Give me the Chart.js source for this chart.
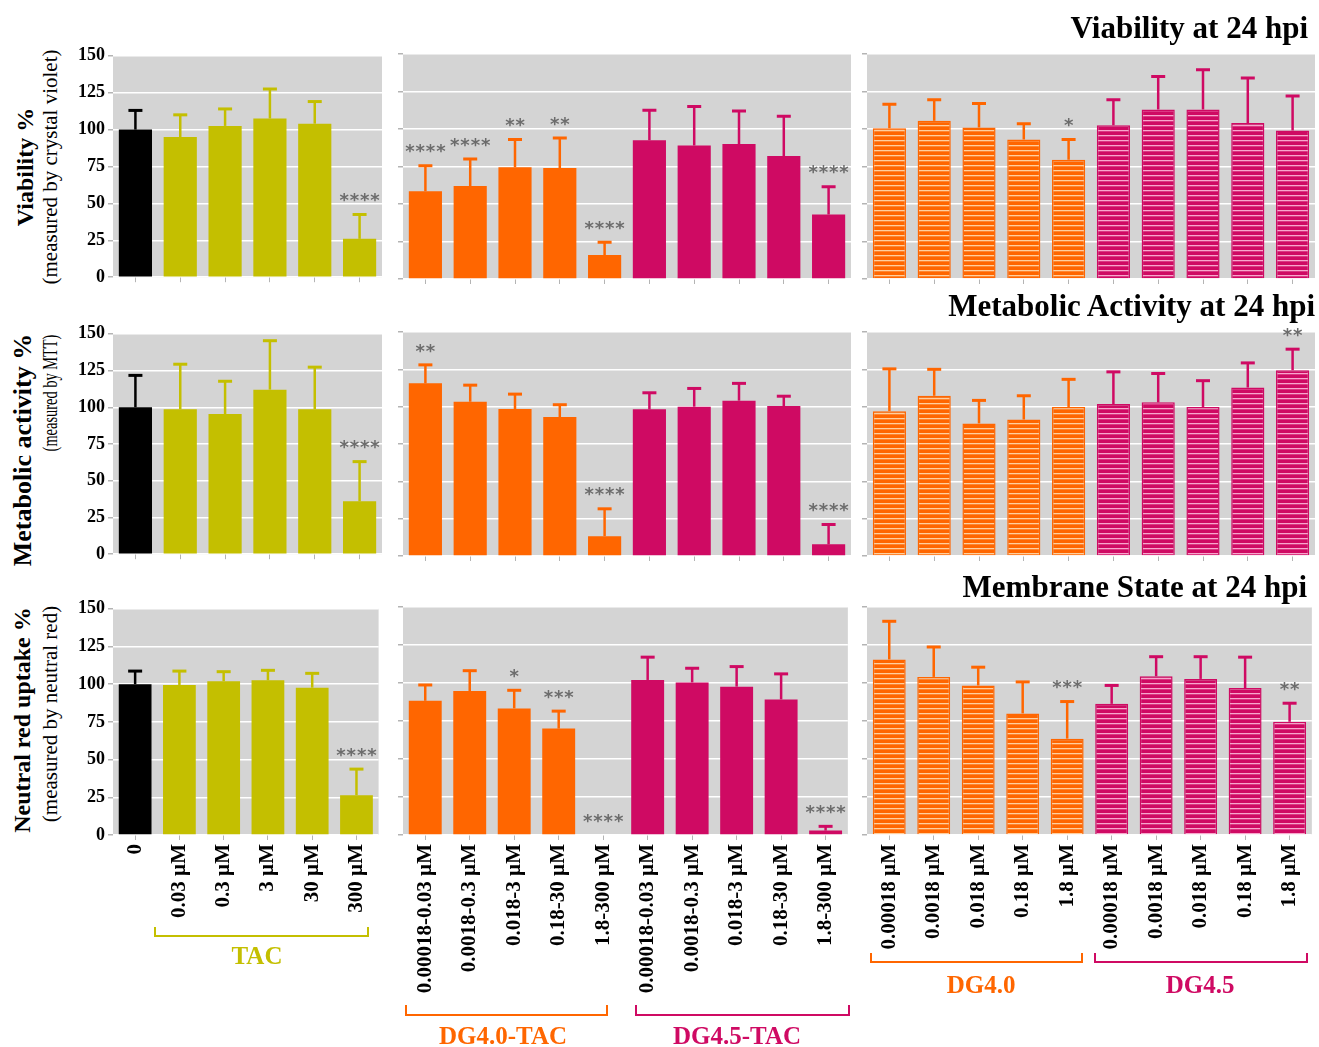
<!DOCTYPE html>
<html>
<head>
<meta charset="utf-8">
<script src="https://cdn.jsdelivr.net/npm/chart.js@4.4.0/dist/chart.umd.min.js"></script>
<style>
  body { margin: 0; background: #fff; }
  #page { position: relative; width: 1319px; height: 1047px; overflow: hidden; font-family: "Liberation Serif", serif; }
  canvas { position: absolute; }
  .rowTitle { position: absolute; font-weight: bold; font-size: 31px; line-height: 31px; white-space: nowrap; z-index: 2; }
  .ytitle { position: absolute; white-space: nowrap; transform: translate(-50%, -50%) rotate(-90deg); z-index: 2; }
  .bracket { position: absolute; border: 2px solid; border-top: none; box-sizing: border-box; z-index: 2; }
  .group { position: absolute; font-weight: bold; font-size: 25px; transform: translate(-50%, -50%); white-space: nowrap; z-index: 2; }
</style>
</head>
<body>
<div id="page">
  <div class="rowTitle" style="right:11px; top:12px">Viability at 24 hpi</div>
  <div class="rowTitle" style="right:4px; top:290px">Metabolic Activity at 24 hpi</div>
  <div class="rowTitle" style="right:12px; top:571px">Membrane State at 24 hpi</div>

  <div class="ytitle" style="left:25px; top:167px; font-weight:bold; font-size:24px">Viability %</div>
  <div class="ytitle" style="left:50px; top:167px; font-size:21px">(measured by crystal violet)</div>
  <div class="ytitle" style="left:23px; top:450px; font-weight:bold; font-size:26px">Metabolic activity %</div>
  <div class="ytitle" style="left:50px; top:393px; font-size:20px; transform: translate(-50%, -50%) rotate(-90deg) scaleX(0.72)">(measured by MTT)</div>
  <div class="ytitle" style="left:22px; top:720px; font-weight:bold; font-size:24px">Neutral red uptake %</div>
  <div class="ytitle" style="left:50px; top:714px; font-size:21px">(measured by neutral red)</div>

  <div class="bracket" style="left:154px; top:927px; width:215px; height:10px; border-color:#c4bf00"></div>
  <div class="group" style="left:257px; top:956px; color:#c4bf00">TAC</div>
  <div class="bracket" style="left:405px; top:1005px; width:203px; height:11px; border-color:#ff6600"></div>
  <div class="group" style="left:503px; top:1036px; color:#ff6600">DG4.0-TAC</div>
  <div class="bracket" style="left:635px; top:1005px; width:215px; height:11px; border-color:#cf0a63"></div>
  <div class="group" style="left:737px; top:1036px; color:#cf0a63">DG4.5-TAC</div>
  <div class="bracket" style="left:870px; top:953px; width:213px; height:10px; border-color:#ff6600"></div>
  <div class="group" style="left:981px; top:985px; color:#ff6600">DG4.0</div>
  <div class="bracket" style="left:1094px; top:953px; width:214px; height:10px; border-color:#cf0a63"></div>
  <div class="group" style="left:1200px; top:985px; color:#cf0a63">DG4.5</div>
</div>
<script>
// categories
const tacLabels = ['0', '0.03 µM', '0.3 µM', '3 µM', '30 µM', '300 µM'];
const dgTacLabels = ['0.00018-0.03 µM', '0.0018-0.3 µM', '0.018-3 µM', '0.18-30 µM', '1.8-300 µM',
                     '0.00018-0.03 µM', '0.0018-0.3 µM', '0.018-3 µM', '0.18-30 µM', '1.8-300 µM'];
const dgLabels = ['0.00018 µM', '0.0018 µM', '0.018 µM', '0.18 µM', '1.8 µM',
                  '0.00018 µM', '0.0018 µM', '0.018 µM', '0.18 µM', '1.8 µM'];
const yTicks = [0, 25, 50, 75, 100, 125, 150];

// viability (crystal violet)
const viabTac = [100, 95, 102.5, 107.5, 104, 26];
const viabTacSd = [13, 15, 11.5, 20, 15, 16.5];
const viabTacStars = ['', '', '', '', '', '****'];
const viabDgTac = [58.5, 62, 74.5, 74, 16, 92.5, 89, 90, 82, 43];
const viabDgTacSd = [17, 18, 18.5, 20, 8.5, 20, 26, 22, 26.5, 18.5];
const viabDgTacStars = ['****', '****', '**', '**', '****', '', '', '', '', '****'];
const viabDg = [100.5, 105.5, 101, 93, 79.5, 102.5, 113, 113, 104, 99];
const viabDgSd = [16, 14, 16, 10.5, 13.5, 17, 22, 26.5, 30, 23];
const viabDgStars = ['', '', '', '', '*', '', '', '', '', ''];

// metabolic activity (MTT)
const mttTac = [100, 98.7, 95.4, 112, 98.7, 36];
const mttTacSd = [21.7, 30.6, 22.3, 33.3, 28.6, 27];
const mttTacStars = ['', '', '', '', '', '****'];
const mttDgTac = [115.6, 103.3, 98.4, 93, 13.3, 98.2, 100, 104, 100.4, 7.8];
const mttDgTacSd = [12.4, 11.1, 10, 8.3, 18.3, 11.1, 12.2, 11.6, 6.6, 13.3];
const mttDgTacStars = ['**', '', '', '', '****', '', '', '', '', '****'];
const mttDg = [97, 107.3, 88.8, 91.4, 99.8, 101.8, 102.9, 99.8, 112.8, 124.4];
const mttDgSd = [28.3, 17.7, 15.4, 15.9, 18.5, 21.5, 19.3, 17.6, 16.5, 14.1];
const mttDgStars = ['', '', '', '', '', '', '', '', '', '**'];

// membrane state (neutral red)
const nrTac = [100, 99.5, 102, 102.6, 97.7, 26.4];
const nrTacSd = [8.7, 9.2, 6.3, 6.6, 9.5, 17.3];
const nrTacStars = ['', '', '', '', '', '****'];
const nrDgTac = [88.3, 94.7, 83.3, 70, 0, 102, 100.4, 97.6, 89.2, 2.9];
const nrDgTacSd = [10.4, 13.4, 11.9, 11.5, 0, 15, 9.3, 13.2, 16.8, 2.8];
const nrDgTacStars = ['', '', '*', '***', '****', '', '', '', '', '****'];
const nrDg = [115.5, 104, 98.4, 80, 63.4, 86.3, 104.4, 102.7, 96.7, 74.5];
const nrDgSd = [25.1, 19.7, 12, 20.7, 24.4, 12.1, 12.9, 14.6, 20.3, 12.2];
const nrDgStars = ['', '', '', '', '***', '', '', '', '', '**'];

const OLIVE = '#c4bf00', ORANGE = '#ff6600', MAGENTA = '#cf0a63';

function stripes(base, light) {
  const c = document.createElement('canvas');
  c.width = 4; c.height = 5;
  const g = c.getContext('2d');
  g.fillStyle = base; g.fillRect(0, 0, 4, 5);
  g.fillStyle = light; g.fillRect(0, 3, 4, 1.3);
  return g.createPattern(c, 'repeat');
}
const orangeHatch = stripes(ORANGE, '#ffcf9e');
const magentaHatch = stripes(MAGENTA, '#f8a6cc');

const tacColors = ['#000', OLIVE, OLIVE, OLIVE, OLIVE, OLIVE];
const dgTacColors = [ORANGE, ORANGE, ORANGE, ORANGE, ORANGE, MAGENTA, MAGENTA, MAGENTA, MAGENTA, MAGENTA];
const dgFills = [orangeHatch, orangeHatch, orangeHatch, orangeHatch, orangeHatch,
                 magentaHatch, magentaHatch, magentaHatch, magentaHatch, magentaHatch];

// layout of the 3x3 grid (page px of each plot area)
const cols = [
  { left: 113, right: 382, yw: 45 },
  { left: 403, right: 851, yw: 6 },
  { left: 867, right: 1315, yw: 6 }
];
const rows = [
  { top: 54, bottom: 279, xh: 8 },
  { top: 332, bottom: 556, xh: 8 },
  { top: 607, bottom: 835, xh: 170 }
];

const panels = [
  [viabTac, viabTacSd, viabTacStars], [viabDgTac, viabDgTacSd, viabDgTacStars], [viabDg, viabDgSd, viabDgStars],
  [mttTac, mttTacSd, mttTacStars], [mttDgTac, mttDgTacSd, mttDgTacStars], [mttDg, mttDgSd, mttDgStars],
  [nrTac, nrTacSd, nrTacStars], [nrDgTac, nrDgTacSd, nrDgTacStars], [nrDg, nrDgSd, nrDgStars]
];
const colLabels = [tacLabels, dgTacLabels, dgLabels];
const colLines = [tacColors, dgTacColors, dgTacColors];
const colFills = [tacColors, dgTacColors, dgFills];

const panelPlugin = {
  id: 'panel',
  beforeDraw(chart) {
    const a = chart.chartArea, ctx = chart.ctx;
    ctx.save();
    ctx.fillStyle = '#d4d4d4';
    ctx.fillRect(a.left, a.top, a.right - a.left, a.bottom - a.top);
    ctx.restore();
  },
  afterDatasetsDraw(chart) {
    const ds = chart.data.datasets[0];
    const meta = chart.getDatasetMeta(0);
    const y = chart.scales.y, ctx = chart.ctx;
    ctx.save();
    ds.data.forEach((v, i) => {
      const x = meta.data[i].x;
      const base = y.getPixelForValue(v);
      const top = y.getPixelForValue(v + ds.sd[i]);
      if (ds.sd[i] > 0) {
        ctx.strokeStyle = ds.lineColors[i];
        ctx.lineWidth = 2.5;
        ctx.beginPath(); ctx.moveTo(x, base); ctx.lineTo(x, top); ctx.stroke();
        ctx.lineWidth = 3;
        ctx.beginPath(); ctx.moveTo(x - 7, top); ctx.lineTo(x + 7, top); ctx.stroke();
      }
      const s = ds.stars[i];
      if (s) {
        ctx.fillStyle = '#6c6c6c';
        ctx.font = 'bold 18px "DejaVu Sans"';
        ctx.textAlign = 'center';
        ctx.textBaseline = 'middle';
        const step = 10.3;
        const x0 = x - (s.length - 1) * step / 2;
        for (let k = 0; k < s.length; k++) ctx.fillText('*', x0 + k * step, top - 13);
      }
    });
    ctx.restore();
  }
};

const page = document.getElementById('page');
rows.forEach((row, r) => {
  cols.forEach((col, c) => {
    const p = panels[r * 3 + c];
    const canvas = document.createElement('canvas');
    const w = col.right - col.left + col.yw + 8;
    const h = row.bottom - row.top + row.xh + 16;
    canvas.width = w; canvas.height = h;
    canvas.style.left = (col.left - col.yw - 4) + 'px';
    canvas.style.top = (row.top - 12) + 'px';
    canvas.style.width = w + 'px'; canvas.style.height = h + 'px';
    page.appendChild(canvas);
    const hatched = c === 2;
    new Chart(canvas, {
      type: 'bar',
      data: {
        labels: colLabels[c],
        datasets: [{
          data: p[0],
          sd: p[1],
          stars: p[2],
          lineColors: colLines[c],
          backgroundColor: colFills[c],
          borderColor: colLines[c],
          borderWidth: hatched ? 1.5 : 0,
          barPercentage: 0.74,
          categoryPercentage: 1
        }]
      },
      options: {
        responsive: false,
        animation: false,
        devicePixelRatio: 1,
        layout: { padding: { left: 4, right: 4, top: 12, bottom: 4 } },
        plugins: { legend: { display: false }, tooltip: { enabled: false } },
        scales: {
          x: {
            offset: true,
            grid: { display: true, drawOnChartArea: false, drawTicks: true, tickLength: 5, tickColor: '#b4b4b4', offset: false },
            border: { display: false },
            ticks: {
              display: r === 2, autoSkip: false, maxRotation: 90, minRotation: 90, padding: 4, color: '#000',
              font: { family: 'Liberation Serif', size: 21, weight: 'bold' }
            },
            afterFit: s => { s.height = row.xh; }
          },
          y: {
            min: yTicks[0], max: yTicks[yTicks.length - 1],
            afterBuildTicks: s => { s.ticks = yTicks.map(v => ({ value: v })); },
            grid: { color: '#ffffff', lineWidth: 1.5, tickColor: '#b4b4b4', tickLength: 5 },
            border: { display: false },
            ticks: {
              display: c === 0, padding: 3, color: '#000',
              font: { family: 'Liberation Serif', size: 18, weight: 'bold' }
            },
            afterFit: s => { s.width = col.yw; }
          }
        }
      },
      plugins: [panelPlugin]
    });
  });
});
</script>
</body>
</html>
